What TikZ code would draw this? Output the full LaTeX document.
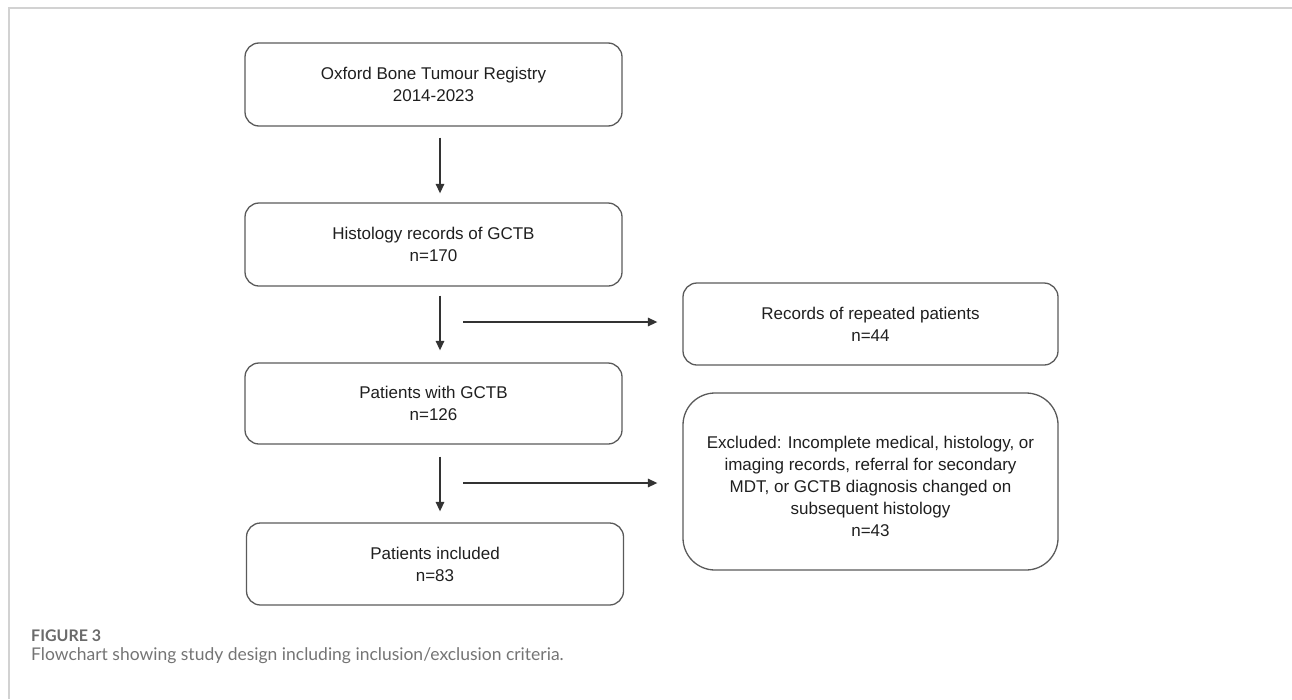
\documentclass[tikz,border=0pt]{standalone}
\usepackage{fontspec}
\setmainfont{Liberation Sans}
\newfontfamily\capfont{Lato}
\usetikzlibrary{arrows.meta}
\definecolor{boxline}{HTML}{5A5A5A}
\definecolor{arrline}{HTML}{333333}
\definecolor{framecol}{HTML}{D2D2D2}
\definecolor{captitle}{HTML}{6A6A6A}
\definecolor{captext}{HTML}{747474}
\tikzset{
  flowbox/.style={draw=boxline, line width=1.3pt, rounded corners=14pt, align=center,
    minimum width=377pt, minimum height=83pt, inner sep=0pt, font=\fontsize{17}{22}\selectfont, text=black!88},
  bigbox/.style={flowbox, minimum width=375pt, minimum height=177pt, rounded corners=32pt},
  arr/.style={draw=arrline, line width=1.4pt, -{Triangle[length=9.5pt,width=8.5pt]}},
}
\begin{document}
\begin{tikzpicture}[x=1pt,y=-1pt]
\useasboundingbox (0,0) rectangle (1292,699);
% frame
\draw[framecol, line width=1.5pt] (1292,8) -- (9,8) -- (9,699);
% boxes
\node[flowbox] (b1) at (433.5,84.5) {Oxford Bone Tumour Registry\\2014-2023};
\node[flowbox] (b2) at (433.5,244.5) {Histology records of GCTB\\n=170};
\node[flowbox, minimum height=81pt] (b3) at (433.5,403.5) {Patients with GCTB\\n=126};
\node[flowbox, minimum height=82pt] (b4) at (435,564) {Patients included\\n=83};
\node[flowbox, minimum width=375pt, minimum height=82pt] (rec) at (870.5,324) {Records of repeated patients\\n=44};
\node[bigbox] (exc) at (870.5,481.5) {\rule{0pt}{22pt}Excluded: Incomplete medical, histology, or\\imaging records, referral for secondary\\MDT, or GCTB diagnosis changed on\\subsequent histology\\n=43};
% arrow axis and free ends
\coordinate (ax) at (440,0);
\coordinate (h1) at (463,322);
\coordinate (h2) at (463,483);
\draw[arr, shorten <=11pt, shorten >=9pt] (b1.south -| ax) -- (b2.north -| ax);
\draw[arr, shorten <=9pt, shorten >=12pt] (b2.south -| ax) -- (b3.north -| ax);
\draw[arr, shorten <=12pt, shorten >=11pt] (b3.south -| ax) -- (b4.north -| ax);
\draw[arr, shorten >=25pt] (h1) -- (h1 -| rec.west);
\draw[arr, shorten >=25pt] (h2) -- (h2 -| exc.west);
% caption
\node[anchor=west, inner sep=0pt, text=captitle, font=\capfont\bfseries\fontsize{16}{18}\selectfont] (fig) at (31,636) {FIGURE 3};
\node[anchor=west, inner sep=0pt, text=captext, font=\capfont\fontsize{17.5}{20}\selectfont] (cap) at (31,656) {Flowchart showing study design including inclusion/exclusion criteria.};
\end{tikzpicture}
\end{document}
